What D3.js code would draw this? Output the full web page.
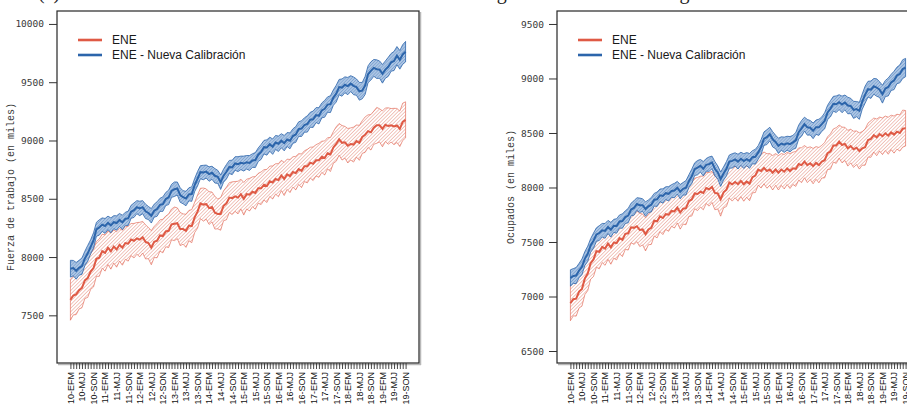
<!DOCTYPE html>
<html>
<head>
<meta charset="utf-8">
<script src="https://cdn.jsdelivr.net/npm/d3@7"></script>
<style>
  body { margin: 0; background: #fff; }
  svg { display: block; }
</style>
</head>
<body>
<div id="chart"></div>
<script>
// periodos: trimestres moviles 2010-EFM .. 2019-SON
const years = ["10", "11", "12", "13", "14", "15", "16", "17", "18", "19"];
const trimestres = ["EFM", "FMA", "MAM", "AMJ", "MJJ", "JJA", "JAS", "ASO", "SON", "OND", "NDE", "DEF"];
const lastTrimestre = "SON";

const seriesNames = ["ENE", "ENE - Nueva Calibración"];
const colors = ["#df5a45", "#2c65ab"];

// titulo cortado arriba (solo se ven los descendentes)
const captionParts = ["(a)", "según", "metodología"];

// Fuerza de trabajo (en miles)
const fuerzaENE = [
  7633, 7670, 7680, 7715, 7735, 7800, 7820, 7875, 7905, 7985, 7995, 8050, 8035, 8080, 8050, 8090,
  8065, 8105, 8080, 8120, 8115, 8150, 8140, 8160, 8150, 8170, 8130, 8120, 8080, 8130, 8140, 8185,
  8180, 8220, 8225, 8280, 8285, 8290, 8240, 8240, 8225, 8270, 8265, 8340, 8390, 8460, 8450, 8455,
  8420, 8430, 8380, 8370, 8370, 8440, 8460, 8510, 8505, 8520, 8510, 8540, 8500, 8540, 8535, 8560,
  8550, 8590, 8590, 8620, 8610, 8650, 8640, 8670, 8660, 8700, 8670, 8710, 8695, 8730, 8720, 8755,
  8740, 8780, 8780, 8810, 8800, 8830, 8830, 8860, 8850, 8890, 8880, 8940, 8970, 9010, 8980, 8985,
  8955, 8970, 8965, 8995, 8980, 9030, 9050, 9080, 9070, 9110, 9130, 9130, 9100, 9135, 9124, 9130,
  9120, 9129, 9100, 9160, 9177
];
const fuerzaENEerr = [
  175, 166, 174, 160, 170, 156, 166, 152, 162, 150, 160, 146, 156, 144, 154, 142,
  152, 140, 150, 140, 150, 138, 148, 136, 148, 136, 146, 134, 146, 134, 146, 134,
  144, 132, 144, 132, 144, 132, 142, 130, 142, 130, 142, 130, 142, 130, 142, 130,
  140, 128, 140, 128, 140, 128, 140, 128, 140, 128, 140, 128, 140, 128, 140, 128,
  140, 128, 140, 130, 142, 130, 142, 130, 142, 130, 142, 130, 142, 130, 144, 132,
  144, 132, 144, 132, 144, 134, 146, 134, 146, 134, 146, 136, 148, 136, 148, 136,
  148, 138, 150, 138, 150, 140, 152, 140, 152, 142, 154, 142, 154, 144, 156, 144,
  156, 146, 152, 160, 155
];
const fuerzaNC = [
  7900, 7905, 7882, 7908, 7922, 7988, 8032, 8088, 8142, 8238, 8254, 8278, 8267, 8293, 8272, 8299,
  8292, 8318, 8297, 8328, 8332, 8388, 8402, 8428, 8417, 8428, 8392, 8378, 8354, 8398, 8412, 8448,
  8454, 8498, 8512, 8568, 8582, 8588, 8532, 8513, 8502, 8538, 8540, 8618, 8672, 8728, 8725, 8733,
  8712, 8723, 8697, 8688, 8642, 8698, 8732, 8773, 8769, 8803, 8797, 8808, 8802, 8813, 8807, 8828,
  8832, 8878, 8902, 8943, 8940, 8968, 8947, 8983, 8972, 8998, 8977, 9008, 8997, 9038, 9052, 9098,
  9102, 9133, 9142, 9178, 9182, 9218, 9212, 9258, 9272, 9308, 9312, 9368, 9402, 9458, 9454, 9478,
  9467, 9488, 9469, 9458, 9422, 9428, 9472, 9568, 9597, 9623, 9612, 9608, 9572, 9608, 9632, 9671,
  9682, 9728, 9692, 9738, 9762
];
const fuerzaNCerr = [
  72, 66, 72, 64, 70, 62, 68, 60, 66, 60, 66, 58, 64, 58, 64, 56,
  62, 56, 62, 56, 62, 56, 62, 56, 62, 56, 62, 56, 62, 56, 62, 56,
  62, 56, 62, 56, 62, 56, 62, 56, 62, 56, 62, 56, 62, 56, 62, 56,
  62, 56, 62, 56, 62, 56, 62, 56, 62, 58, 64, 58, 64, 58, 64, 58,
  64, 58, 64, 58, 66, 60, 66, 60, 66, 60, 66, 60, 68, 62, 68, 62,
  68, 62, 70, 64, 70, 64, 70, 64, 72, 66, 72, 66, 72, 66, 74, 68,
  74, 68, 76, 70, 76, 70, 78, 72, 78, 72, 80, 74, 80, 74, 82, 76,
  82, 78, 80, 84, 88
];

// Ocupados (en miles)
const ocupENE = [
  6938, 6975, 6980, 7045, 7070, 7165, 7210, 7305, 7340, 7415, 7410, 7455, 7440, 7485, 7450, 7495,
  7490, 7535, 7520, 7575, 7580, 7635, 7630, 7645, 7610, 7615, 7570, 7615, 7630, 7695, 7690, 7735,
  7720, 7755, 7750, 7785, 7780, 7815, 7770, 7805, 7810, 7875, 7890, 7945, 7940, 7962, 7950, 7995,
  7983, 8005, 7950, 7945, 7891, 7955, 7980, 8045, 8029, 8050, 8030, 8060, 8030, 8054, 8035, 8095,
  8110, 8165, 8151, 8180, 8151, 8165, 8135, 8165, 8135, 8165, 8145, 8175, 8151, 8176, 8170, 8215,
  8205, 8237, 8205, 8223, 8196, 8225, 8205, 8237, 8250, 8315, 8330, 8385, 8385, 8421, 8390, 8400,
  8360, 8380, 8350, 8365, 8335, 8359, 8370, 8435, 8445, 8481, 8460, 8490, 8470, 8497, 8475, 8505,
  8485, 8512, 8500, 8540, 8543
];
const ocupENEerr = [
  160, 152, 160, 150, 158, 148, 156, 146, 156, 146, 156, 144, 154, 144, 154, 144,
  154, 142, 154, 142, 154, 142, 152, 142, 152, 142, 152, 140, 152, 140, 152, 140,
  152, 140, 152, 140, 152, 140, 152, 140, 152, 140, 152, 140, 152, 142, 154, 142,
  154, 142, 154, 142, 154, 142, 154, 142, 154, 144, 156, 144, 156, 144, 156, 144,
  156, 144, 156, 146, 158, 146, 158, 146, 158, 146, 158, 148, 160, 148, 160, 148,
  160, 148, 160, 150, 162, 150, 162, 150, 162, 150, 162, 152, 164, 152, 164, 152,
  164, 154, 166, 154, 166, 154, 166, 156, 168, 156, 168, 156, 168, 158, 170, 158,
  170, 160, 166, 170, 163
];
const ocupNC = [
  7170, 7188, 7192, 7238, 7272, 7348, 7392, 7468, 7512, 7568, 7582, 7608, 7602, 7638, 7612, 7648,
  7647, 7688, 7692, 7728, 7742, 7798, 7812, 7848, 7837, 7838, 7802, 7828, 7842, 7888, 7892, 7928,
  7922, 7948, 7942, 7968, 7972, 7998, 7962, 7988, 7997, 8058, 8102, 8168, 8182, 8199, 8172, 8208,
  8214, 8230, 8172, 8138, 8076, 8128, 8172, 8238, 8244, 8258, 8237, 8263, 8242, 8260, 8244, 8278,
  8282, 8322, 8372, 8448, 8462, 8490, 8442, 8418, 8382, 8403, 8392, 8406, 8397, 8414, 8432, 8508,
  8542, 8581, 8552, 8548, 8520, 8553, 8552, 8581, 8612, 8688, 8722, 8768, 8764, 8783, 8762, 8780,
  8752, 8748, 8712, 8719, 8703, 8788, 8852, 8902, 8897, 8928, 8917, 8898, 8856, 8908, 8922, 8964,
  8982, 9028, 9042, 9086, 9100
];
const ocupNCerr = [
  75, 68, 74, 66, 72, 64, 70, 62, 70, 62, 68, 62, 68, 60, 68, 60,
  66, 60, 66, 58, 66, 58, 66, 58, 66, 58, 66, 58, 66, 58, 66, 58,
  66, 58, 66, 58, 66, 58, 66, 58, 66, 58, 66, 58, 66, 58, 66, 58,
  66, 58, 66, 60, 66, 60, 66, 60, 66, 60, 68, 60, 68, 60, 68, 60,
  68, 62, 68, 62, 68, 62, 70, 62, 70, 62, 70, 64, 70, 64, 72, 64,
  72, 64, 72, 66, 72, 66, 74, 66, 74, 66, 74, 68, 76, 68, 76, 68,
  76, 70, 78, 70, 78, 70, 78, 72, 80, 72, 80, 72, 82, 74, 82, 74,
  84, 76, 82, 86, 84
];

const fuerzaTicks = [7500, 8000, 8500, 9000, 9500, 10000];
const ocupTicks = [6500, 7000, 7500, 8000, 8500, 9000, 9500];

// categorias del eje x
const periodos = [];
years.forEach(y => {
  for (const t of trimestres) {
    periodos.push(y + "-" + t);
    if (y === years[years.length - 1] && t === lastTrimestre) break;
  }
});

const W = 907, H = 404;

const svg = d3.select('#chart')
  .append('svg')
  .attr('width', W)
  .attr('height', H)
  .style('font-family', '"Liberation Sans", Arial, sans-serif');

const defs = svg.append('defs');

function hatch(id, spacing, lineColor, lineWidth, bg) {
  const p = defs.append('pattern')
    .attr('id', id)
    .attr('patternUnits', 'userSpaceOnUse')
    .attr('width', spacing)
    .attr('height', spacing)
    .attr('patternTransform', 'rotate(45)');
  if (bg) p.append('rect').attr('width', spacing).attr('height', spacing).attr('fill', bg);
  p.append('line')
    .attr('x1', 0).attr('y1', 0)
    .attr('x2', 0).attr('y2', spacing)
    .attr('stroke', lineColor)
    .attr('stroke-width', lineWidth);
}
hatch('hatch-ene', 2.5, '#e07866', 0.85, null);
hatch('hatch-nc', 2.2, '#4a7dbd', 0.7, '#adc6e4');

// titulo superior, recortado por el borde
const cap = svg.append('text')
  .attr('y', -1)
  .attr('fill', '#222')
  .style('font-family', '"Liberation Serif", "DejaVu Serif", serif')
  .style('font-size', '20px');
cap.append('tspan').attr('x', 38).text(captionParts[0]);
cap.append('tspan').attr('x', 480).text(captionParts[1]);
cap.append('tspan').attr('x', 604).text(captionParts[2]);

function drawPanel(opts) {
  const { left, top, width, height, yDomain, ticks, title, series } = opts;

  const x = d3.scaleLinear()
    .domain([-4.64, periodos.length - 1 + 4.64])
    .range([left, left + width]);
  const y = d3.scaleLinear()
    .domain(yDomain)
    .range([top + height, top]);

  const g = svg.append('g');

  // bandas (intervalos)
  series.forEach((s, k) => {
    const area = d3.area()
      .x((d, i) => x(i))
      .y0((d, i) => y(d - s.err[i]))
      .y1((d, i) => y(d + s.err[i]));
    g.append('path')
      .datum(s.values)
      .attr('d', area)
      .attr('fill', `url(#${s.pattern})`)
      .attr('stroke', s.color)
      .attr('stroke-width', k === 0 ? 0.7 : 0.8)
      .attr('stroke-opacity', k === 0 ? 0.85 : 1);
  });

  series.forEach(s => {
    const line = d3.line()
      .x((d, i) => x(i))
      .y(d => y(d));
    g.append('path')
      .datum(s.values)
      .attr('d', line)
      .attr('fill', 'none')
      .attr('stroke', s.color)
      .attr('stroke-width', 2);
  });

  // marco
  svg.append('line')
    .attr('x1', left + width + 1.5).attr('x2', left + width + 1.5)
    .attr('y1', top + 1).attr('y2', top + height + 2)
    .attr('stroke', '#b8b8b8').attr('stroke-width', 1.5);
  svg.append('line')
    .attr('x1', left + 1).attr('x2', left + width + 2)
    .attr('y1', top + height + 1.5).attr('y2', top + height + 1.5)
    .attr('stroke', '#b8b8b8').attr('stroke-width', 1.5);
  svg.append('rect')
    .attr('x', left).attr('y', top)
    .attr('width', width).attr('height', height)
    .attr('fill', 'none')
    .attr('stroke', '#262626')
    .attr('stroke-width', 1.2);

  // eje y
  const yAxis = svg.append('g')
    .attr('transform', `translate(${left},0)`)
    .call(d3.axisLeft(y).tickValues(ticks).tickSize(8).tickPadding(5).tickFormat(d3.format('d')));
  yAxis.select('.domain').remove();
  yAxis.selectAll('line').attr('stroke', '#333');
  yAxis.selectAll('text')
    .attr('fill', '#3a3a3a')
    .style('font-family', '"DejaVu Sans Mono", "Liberation Mono", monospace')
    .style('font-size', '9.5px');

  svg.append('text')
    .attr('transform', `translate(${left - 43},${top + height / 2}) rotate(-90)`)
    .attr('text-anchor', 'middle')
    .attr('fill', '#3a3a3a')
    .style('font-family', '"Liberation Mono", "DejaVu Sans Mono", monospace')
    .style('font-size', '10px')
    .text(title);

  // eje x
  const xAxis = svg.append('g')
    .attr('transform', `translate(0,${top + height})`)
    .call(d3.axisBottom(x)
      .tickValues(d3.range(periodos.length))
      .tickSize(6)
      .tickFormat(i => (i % 4 === 0 ? periodos[i] : '')));
  xAxis.select('.domain').remove();
  xAxis.selectAll('line').attr('stroke', '#333').attr('stroke-width', 0.9);
  xAxis.selectAll('text')
    .attr('fill', '#111')
    .style('font-size', '9px')
    .attr('text-anchor', 'end')
    .attr('transform', 'rotate(-90)')
    .attr('x', -9)
    .attr('y', 0)
    .attr('dy', '0.32em');

  // leyenda
  const lg = svg.append('g').attr('transform', `translate(${left + 21},${top + 29})`);
  series.forEach((s, k) => {
    lg.append('line')
      .attr('x1', 0).attr('x2', 24)
      .attr('y1', k * 15).attr('y2', k * 15)
      .attr('stroke', s.color)
      .attr('stroke-width', 2.6);
    lg.append('text')
      .attr('x', 34)
      .attr('y', k * 15)
      .attr('dy', '0.35em')
      .attr('fill', '#1a1a1a')
      .style('font-size', '12px')
      .text(s.name);
  });
}

drawPanel({
  left: 57, top: 11, width: 362, height: 352,
  yDomain: [7091, 10111],
  ticks: fuerzaTicks,
  title: 'Fuerza de trabajo (en miles)',
  series: [
    { name: seriesNames[0], color: colors[0], values: fuerzaENE, err: fuerzaENEerr, pattern: 'hatch-ene' },
    { name: seriesNames[1], color: colors[1], values: fuerzaNC, err: fuerzaNCerr, pattern: 'hatch-nc' }
  ]
});

drawPanel({
  left: 557, top: 11, width: 362, height: 352,
  yDomain: [6390, 9619],
  ticks: ocupTicks,
  title: 'Ocupados (en miles)',
  series: [
    { name: seriesNames[0], color: colors[0], values: ocupENE, err: ocupENEerr, pattern: 'hatch-ene' },
    { name: seriesNames[1], color: colors[1], values: ocupNC, err: ocupNCerr, pattern: 'hatch-nc' }
  ]
});
</script>
</body>
</html>
